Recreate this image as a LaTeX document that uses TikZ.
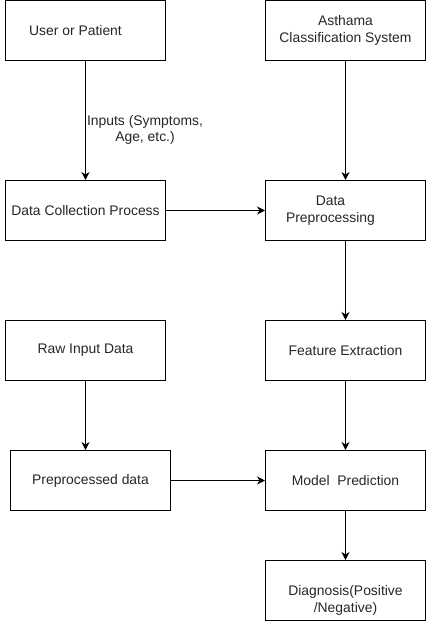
\documentclass[tikz,border=0pt]{standalone}
\usepackage{fontspec}
\setmainfont{Liberation Sans}
\usetikzlibrary{arrows, arrows.meta, positioning, calc}

\begin{document}
\begin{tikzpicture}[
    x=1pt, y=-1pt,
    every node/.style={font=\fontsize{13.9pt}{16.7pt}\selectfont, text=black!85},
    block/.style={rectangle, draw, line width=1pt, minimum width=160pt, minimum height=60pt, inner sep=0pt, align=center},
    arrow/.style={-{Stealth[length=8pt, width=8pt, inset=2.5pt]}, line width=1pt}
]
    \useasboundingbox (0,0) rectangle (426,621);

    \node [block, label={[xshift=-10pt]center:User or Patient}] (user) at (85.5,30.5) {};
    \node [block, align=center] (asys) at (345.5,30.5) {Asthama\\Classification System};
    \node [block] (collect) at (85.5,210.5) {Data Collection Process};
    \node [block, label={[align=center, xshift=-15pt]center:Data\\Preprocessing}] (prep) at (345.5,210.5) {};
    \node [block] (raw) at (85.5,350.5) {Raw Input Data};
    \node [block] (feat) at (345.5,350.5) {Feature Extraction};
    \node [block] (preproc) at (90.5,480.5) {Preprocessed data};
    \node [block] (model) at (345.5,480.5) {Model\ \ Prediction};
    \node [block, label={[align=center, yshift=-10pt]center:Diagnosis(Positive\\/Negative)}] (diag) at (345.5,590.5) {};

    \node [align=center] (inlbl) at (145,130) {Inputs (Symptoms,\\Age, etc.)};

    \draw [arrow] (user) -- (collect);
    \draw [arrow] (asys) -- (prep);
    \draw [arrow] (collect) -- (prep);
    \draw [arrow] (prep) -- (feat);
    \draw [arrow] (feat) -- (model);
    \draw [arrow] (raw) -- (raw |- preproc.north);
    \draw [arrow] (preproc) -- (model);
    \draw [arrow] (model) -- (diag);
\end{tikzpicture}
\end{document}
